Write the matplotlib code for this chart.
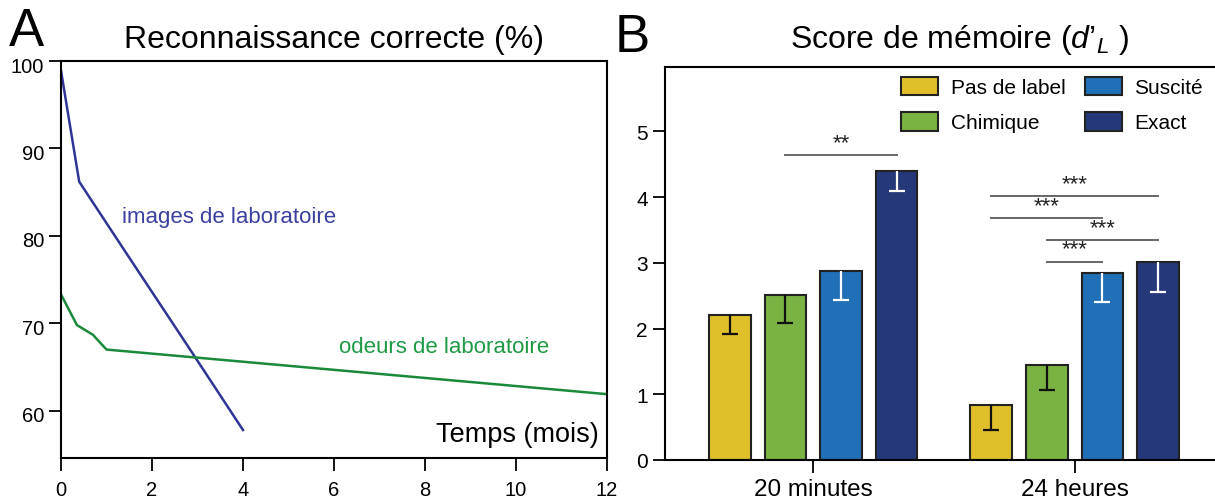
import numpy as np
import matplotlib
matplotlib.use("Agg")
import matplotlib.pyplot as plt
import matplotlib.transforms as mtransforms

plt.rcParams['font.family'] = ['Liberation Sans', 'DejaVu Sans']
plt.rcParams['mathtext.fontset'] = 'custom'
plt.rcParams['mathtext.rm'] = 'Liberation Sans'
plt.rcParams['mathtext.it'] = 'Liberation Sans:italic'

# Panel A data (months, % correct recognition)
images_t = [0, 0.4, 1.4, 2.8, 4.0]
images_pct = [98.9, 86.2, 78.3, 67.3, 57.8]
odeurs_t = [0, 0.35, 0.7, 1.0, 12.0]
odeurs_pct = [73.3, 69.8, 68.7, 67.0, 61.9]

# Panel B data (d'L)
groups = ['20 minutes', '24 heures']
conditions = ['Pas de label', 'Chimique', 'Suscité', 'Exact']
bar_colors = ['#e0c02a', '#7ab342', '#206fb7', '#25387a']
err_colors = ['#111111', '#111111', 'white', 'white']
scores_20min = [2.21, 2.51, 2.87, 4.40]
scores_24h = [0.83, 1.45, 2.85, 3.01]
err_20min = [0.30, 0.43, 0.43, 0.31]
err_24h = [0.38, 0.38, 0.44, 0.46]
# (group, cond_from, cond_to, height, stars)
comparisons = [
    (0, 1, 3, 4.64, '**'),
    (1, 0, 3, 4.02, '***'),
    (1, 0, 2, 3.68, '***'),
    (1, 1, 3, 3.34, '***'),
    (1, 1, 2, 3.02, '***'),
]

fig = plt.figure(figsize=(12.15, 5.02), dpi=100)

# ---------- Panel A ----------
axA = fig.add_axes([61/1215, 1-459/502, 546/1215, 397/502])
axA.plot(images_t, images_pct, color='#2e3596', lw=1.8)
axA.plot(odeurs_t, odeurs_pct, color='#1a8a3a', lw=1.8)
axA.set_xlim(0, 12)
axA.set_ylim(54.6, 100)
axA.set_xticks(range(0, 13, 2))
axA.set_yticks([60, 70, 80, 90, 100])
for s in axA.spines.values():
    s.set_linewidth(1.5)
axA.tick_params(direction='out', length=9, width=1.3, labelsize=14.5, pad=3)
axA.tick_params(axis='x', pad=7)
# y labels sit a little below their ticks in the original
shift = mtransforms.ScaledTranslation(0, -3/100, fig.dpi_scale_trans)
for lab in axA.get_yticklabels():
    lab.set_transform(lab.get_transform() + shift)
axA.text(1.34, 82.2, 'images de laboratoire', color='#3a40a0', fontsize=16, va='center')
axA.text(6.1, 67.3, 'odeurs de laboratoire', color='#1e9a45', fontsize=16, va='center')
axA.text(0.985, 0.06, 'Temps (mois)', transform=axA.transAxes, ha='right', va='center', fontsize=19.5)
fig.text(334/1215, 1-40/502, 'Reconnaissance correcte (%)', ha='center', va='center', fontsize=23)
fig.text(9/1215, 1-46/502, 'A', ha='left', va='baseline', fontsize=38)

# ---------- Panel B ----------
axB = fig.add_axes([665/1215, 1-461/502, 590/1215, 393/502])
step = 0.2126
width = 0.159
x = np.arange(len(groups))
for i, cond in enumerate(conditions):
    xs = x + (i - 1.5) * step
    vals = [scores_20min[i], scores_24h[i]]
    errs = [err_20min[i], err_24h[i]]
    axB.bar(xs, vals, width=width, color=bar_colors[i], edgecolor='#222222',
            linewidth=1.5, label=cond, zorder=2)
    eb = axB.errorbar(xs, vals, yerr=[errs, [0, 0]], fmt='none', ecolor=err_colors[i],
                      elinewidth=1.6, capsize=5.5, capthick=1.6, zorder=3)
    # only the lower cap is drawn in the original
    eb[1][1].set_visible(False)

for g, c1, c2, h, stars in comparisons:
    x1 = g + (c1 - 1.5) * step
    x2 = g + (c2 - 1.5) * step
    axB.plot([x1, x2], [h, h], color='#666666', lw=1.4)
    axB.text((x1 + x2) / 2, h + 0.03, stars, ha='center', va='bottom', fontsize=16, color='#222222')

axB.set_xlim(-0.567, 1.69)
axB.set_ylim(0, 5.98)
axB.set_yticks(range(0, 6))
axB.set_xticks(x)
axB.set_xticklabels(groups)
axB.spines['right'].set_visible(False)
for s in axB.spines.values():
    s.set_linewidth(1.5)
axB.tick_params(direction='out', length=9, width=1.3, labelsize=15)
axB.tick_params(axis='x', labelsize=17.5, pad=4)
axB.legend(ncol=2, loc='upper left', bbox_to_anchor=(0.4, 0.975), frameon=False,
           fontsize=15, handlelength=1.8, handleheight=1.0, handletextpad=0.6,
           columnspacing=0.9, labelspacing=0.7, borderpad=0, borderaxespad=0)
fig.text(960/1215, 1-40/502, "Score de mémoire ($d$’${}_{L}$ )", ha='center', va='center', fontsize=23)
fig.text(615/1215, 1-52/502, 'B', ha='left', va='baseline', fontsize=38)

fig.savefig('out.png', dpi=100)
